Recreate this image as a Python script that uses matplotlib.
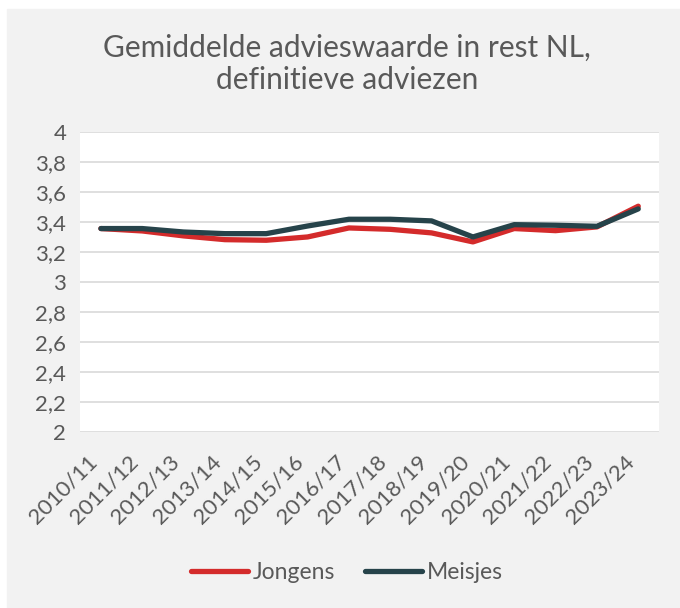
import matplotlib
matplotlib.use("Agg")
import matplotlib.pyplot as plt

years = ["2010/11", "2011/12", "2012/13", "2013/14", "2014/15", "2015/16", "2016/17",
         "2017/18", "2018/19", "2019/20", "2020/21", "2021/22", "2022/23", "2023/24"]
jongens = [3.356, 3.34, 3.307, 3.282, 3.278, 3.30, 3.36, 3.351, 3.327, 3.267, 3.356, 3.342, 3.367, 3.505]
meisjes = [3.356, 3.356, 3.333, 3.322, 3.322, 3.373, 3.418, 3.418, 3.407, 3.30, 3.382, 3.378, 3.371, 3.487]
yticks = [2.0, 2.2, 2.4, 2.6, 2.8, 3.0, 3.2, 3.4, 3.6, 3.8, 4.0]
ytick_labels = ["2", "2,2", "2,4", "2,6", "2,8", "3", "3,2", "3,4", "3,6", "3,8", "4"]

plt.rcParams['font.family'] = ['Lato', 'DejaVu Sans']
txt = '#595959'

fig = plt.figure(figsize=(6.8, 6.08), dpi=100)
fig.patch.set_facecolor('white')
bg = plt.Rectangle((0.01, 0.0), 0.99, 0.985, transform=fig.transFigure, color='#F2F2F2', zorder=-10)
fig.patches.append(bg)

ax = fig.add_axes([0.118, 0.2895, 0.851, 0.4935])
ax.set_facecolor('white')
x = list(range(len(years)))
ax.plot(x, jongens, color='#D42B2B', lw=3.8, solid_capstyle='round', label='Jongens', zorder=3)
ax.plot(x, meisjes, color='#26434A', lw=3.8, solid_capstyle='round', label='Meisjes', zorder=4)
ax.set_xlim(-0.5, len(years) - 0.5)
ax.set_ylim(2, 4)
ax.set_yticks(yticks)
ax.set_yticklabels(ytick_labels)
ax.set_xticks(x)
ax.set_xticklabels(years, rotation=45, ha='right', va='top', rotation_mode='default')
ax.tick_params(axis='both', length=0, labelsize=16, labelcolor=txt)
ax.tick_params(axis='x', pad=14)
ax.tick_params(axis='y', pad=10)
ax.grid(axis='y', color='#D9D9D9', lw=1.2)
ax.set_axisbelow(True)
for s in ax.spines.values():
    s.set_visible(False)

fig.text(0.51, 0.895, "Gemiddelde advieswaarde in rest NL,\ndefinitieve adviezen",
         ha='center', va='center', fontsize=21.5, color=txt, linespacing=1.2)

leg = fig.legend(loc='center', bbox_to_anchor=(0.51, 0.058), ncol=2, frameon=False,
                 fontsize=16.5, handlelength=2.5, handletextpad=0.2, columnspacing=1.3)
for t in leg.get_texts():
    t.set_color(txt)

fig.savefig('out.png', dpi=100, facecolor=fig.get_facecolor())
